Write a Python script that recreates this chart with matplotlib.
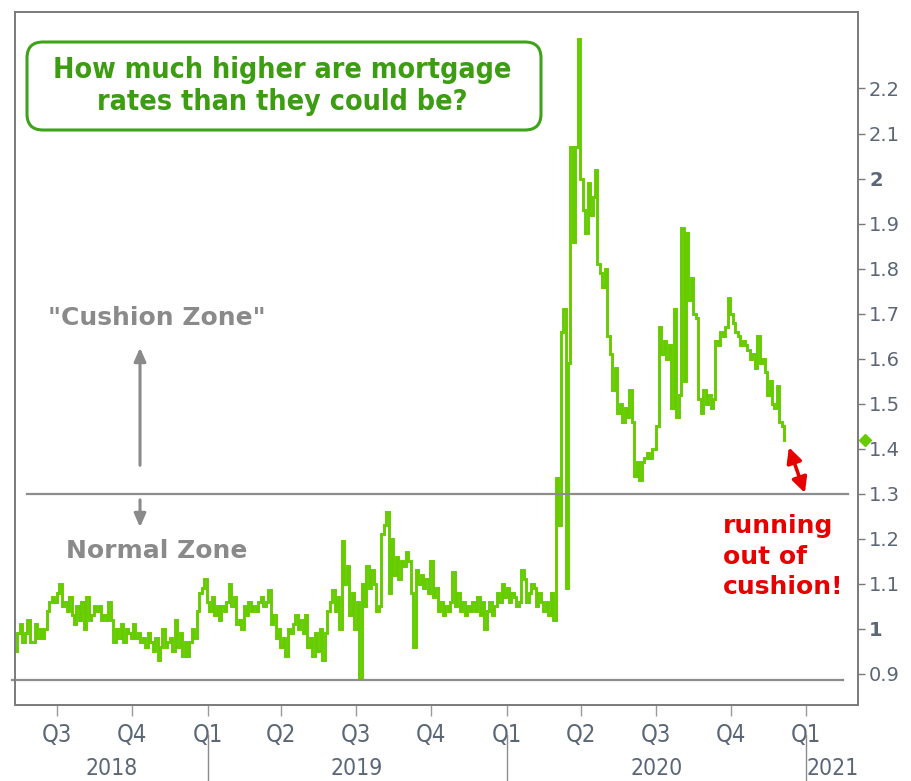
import matplotlib
matplotlib.use("Agg")
import matplotlib.pyplot as plt
from matplotlib.patches import FancyBboxPatch
import pandas as pd

# spread series, sampled every 3 days from 2018-05-11
start_date = "2018-05-11"
spread = [
    0.95, 0.99, 1.01, 0.97, 0.99, 1.02, 0.97, 0.97, 1.01, 0.98,
    1.00, 0.98, 1.00, 1.04, 1.06, 1.07, 1.06, 1.08, 1.10, 1.05,
    1.06, 1.04, 1.07, 1.03, 1.01, 1.05, 1.02, 1.06, 1.00, 1.07,
    1.02, 1.03, 1.05, 1.04, 1.05, 1.02, 1.03, 1.02, 1.06, 1.02,
    0.97, 1.00, 0.98, 1.01, 0.97, 1.00, 0.99, 0.98, 1.01, 0.98,
    0.99, 0.97, 0.98, 0.96, 0.99, 0.97, 0.95, 0.98, 0.93, 0.96,
    1.00, 0.96, 0.97, 0.98, 0.95, 1.02, 0.96, 0.99, 0.94, 0.97,
    0.94, 0.97, 1.00, 0.98, 1.04, 1.08, 1.09, 1.11, 1.06, 1.04,
    1.07, 1.03, 1.05, 1.02, 1.05, 1.04, 1.06, 1.10, 1.05, 1.07,
    1.01, 1.02, 1.00, 1.05, 1.03, 1.06, 1.04, 1.05, 1.04, 1.06,
    1.07, 1.05, 1.06, 1.085, 1.01, 1.03, 0.98, 1.00, 0.96, 0.98,
    0.94, 1.00, 0.99, 1.01, 1.03, 1.00, 1.02, 0.99, 1.03, 0.96,
    0.98, 0.94, 0.99, 0.95, 1.00, 0.93, 0.99, 1.04, 1.06, 1.085,
    1.04, 1.07, 1.00, 1.195, 1.10, 1.14, 1.03, 1.08, 1.00, 1.06,
    0.89, 1.10, 1.05, 1.14, 1.09, 1.13, 1.10, 1.04, 1.05, 1.21,
    1.23, 1.26, 1.08, 1.20, 1.12, 1.16, 1.11, 1.15, 1.14, 1.17,
    1.15, 1.08, 0.96, 1.13, 1.10, 1.12, 1.09, 1.11, 1.08, 1.15,
    1.07, 1.09, 1.04, 1.06, 1.03, 1.05, 1.04, 1.06, 1.125, 1.05,
    1.08, 1.04, 1.06, 1.03, 1.05, 1.04, 1.06, 1.04, 1.07, 1.03,
    1.06, 1.00, 1.04, 1.06, 1.03, 1.05, 1.08, 1.06, 1.10, 1.07,
    1.09, 1.06, 1.08, 1.07, 1.05, 1.06, 1.13, 1.11, 1.06, 1.08,
    1.10, 1.09, 1.05, 1.08, 1.06, 1.04, 1.06, 1.03, 1.08, 1.02,
    1.335, 1.23, 1.66, 1.71, 1.09, 1.59, 2.07, 1.86, 2.07, 2.31,
    2.00, 1.93, 1.88, 1.99, 1.92, 1.96, 2.02, 1.81, 1.79, 1.76,
    1.80, 1.65, 1.61, 1.53, 1.58, 1.48, 1.50, 1.46, 1.49, 1.47,
    1.53, 1.46, 1.34, 1.37, 1.33, 1.37, 1.38, 1.39, 1.38, 1.40,
    1.40, 1.45, 1.67, 1.61, 1.64, 1.60, 1.63, 1.49, 1.71, 1.47,
    1.52, 1.89, 1.55, 1.88, 1.73, 1.78, 1.70, 1.69, 1.51, 1.48,
    1.53, 1.50, 1.52, 1.49, 1.51, 1.64, 1.63, 1.66, 1.65, 1.67,
    1.735, 1.70, 1.68, 1.66, 1.65, 1.63, 1.64, 1.63, 1.62, 1.60,
    1.61, 1.58, 1.65, 1.59, 1.60, 1.57, 1.52, 1.55, 1.50, 1.49,
    1.54, 1.46, 1.45, 1.42,
]
dates = pd.date_range(start_date, periods=len(spread), freq="3D")

y_ticks = [0.9, 1.0, 1.1, 1.2, 1.3, 1.4, 1.5, 1.6, 1.7, 1.8, 1.9, 2.0, 2.1, 2.2]
y_labels = ["0.9", "1", "1.1", "1.2", "1.3", "1.4", "1.5", "1.6", "1.7", "1.8", "1.9", "2", "2.1", "2.2"]
quarter_starts = ["2018-07-01", "2018-10-01", "2019-01-01", "2019-04-01", "2019-07-01",
                  "2019-10-01", "2020-01-01", "2020-04-01", "2020-07-01", "2020-10-01", "2021-01-01"]
quarter_labels = ["Q3", "Q4", "Q1", "Q2", "Q3", "Q4", "Q1", "Q2", "Q3", "Q4", "Q1"]
years = ["2018", "2019", "2020", "2021"]
year_bounds = ["2018-05-11", "2019-01-01", "2020-01-01", "2021-01-01", "2021-03-05"]
cushion_level = 1.3
floor_level = 0.885
latest = 1.42

GREEN = "#66cc00"
AXIS_GRAY = "#7a7a7a"
LABEL = "#5b6776"
COND = dict(family="DejaVu Sans", fontstretch="condensed")

fig = plt.figure(figsize=(9.11, 7.81), dpi=100)
ax = fig.add_axes([15 / 911, 1 - 705 / 781, 843 / 911, 693 / 781])

ax.plot(dates, spread, color=GREEN, lw=2.1, drawstyle="steps-post", solid_joinstyle="miter")

ax.set_xlim(pd.Timestamp(year_bounds[0]), pd.Timestamp(year_bounds[-1]))
ax.set_ylim(0.83, 2.37)

# reference lines
ax.axhline(cushion_level, xmin=0.014, xmax=0.988, color="#8c8c8c", lw=1.6)
ax.axhline(floor_level, xmin=-0.004, xmax=0.982, color="#8c8c8c", lw=1.6, clip_on=False)

# latest value marker on the right axis
ax.plot([1.008], [latest], marker="D", ms=6, color=GREEN,
        transform=ax.get_yaxis_transform(), clip_on=False)

for side in ["left", "right", "top", "bottom"]:
    ax.spines[side].set_color(AXIS_GRAY)
    ax.spines[side].set_linewidth(1.4)

ax.yaxis.tick_right()
ax.set_yticks(y_ticks)
ax.set_yticklabels(y_labels)
ax.tick_params(axis="y", length=5, width=1, color=AXIS_GRAY, labelcolor=LABEL,
               labelsize=14, pad=3)
for lbl in ax.get_yticklabels():
    if lbl.get_text() in ("1", "2"):
        lbl.set_fontweight("bold")

ax.set_xticks(pd.to_datetime(quarter_starts))
ax.set_xticklabels(quarter_labels, **COND)
ax.tick_params(axis="x", length=8, width=1, color="#9a9a9a", labelcolor=LABEL,
               labelsize=17, pad=5)

# year row
xt = ax.get_xaxis_transform()
bounds = pd.to_datetime(year_bounds)
for i, yr in enumerate(years):
    mid = bounds[i] + (bounds[i + 1] - bounds[i]) / 2
    ax.text(mid, -0.091, yr, transform=xt, ha="center", va="center",
            fontsize=16.5, color=LABEL, **COND)
for b in bounds[1:-1]:
    ax.plot([b, b], [-0.043, -0.11], transform=xt, color="#8c8c8c", lw=1, clip_on=False)

# title box
box = FancyBboxPatch((0.27, 7.81 - 1.30), 5.14, 0.88,
                     boxstyle="round,pad=0,rounding_size=0.16",
                     transform=fig.dpi_scale_trans, fc="white", ec="#3ea31a", lw=2.2)
fig.patches.append(box)
fig.text(2.82 / 9.11, 1 - 0.86 / 7.81, "How much higher are mortgage\nrates than they could be?",
         ha="center", va="center", fontsize=20.5, fontweight="bold", color="#3c9c12",
         linespacing=1.2, **COND)

# zone labels and arrows
ax.text(0.168, 0.558, "\"Cushion Zone\"", transform=ax.transAxes, ha="center", va="center",
        fontsize=18, fontweight="bold", color="#8a8a8a")
ax.text(0.168, 0.222, "Normal Zone", transform=ax.transAxes, ha="center", va="center",
        fontsize=18, fontweight="bold", color="#8a8a8a")
ax.annotate("", xy=(0.1483, 0.5195), xytext=(0.1483, 0.342), xycoords="axes fraction",
            arrowprops=dict(arrowstyle="-|>,head_length=0.8,head_width=0.35",
                            color="#8a8a8a", lw=2.2))
ax.annotate("", xy=(0.1483, 0.2525), xytext=(0.1483, 0.300), xycoords="axes fraction",
            arrowprops=dict(arrowstyle="-|>,head_length=0.8,head_width=0.35",
                            color="#8a8a8a", lw=2.2))

# running out of cushion
ax.annotate("", xy=(0.918, 0.372), xytext=(0.937, 0.306), xycoords="axes fraction",
            arrowprops=dict(arrowstyle="<|-|>,head_length=0.9,head_width=0.45",
                            color="#e60000", lw=2.6, shrinkA=0, shrinkB=0))
ax.text(0.840, 0.214, "running\nout of\ncushion!", transform=ax.transAxes,
        ha="left", va="center", fontsize=18, fontweight="bold", color="#e60000",
        linespacing=1.35)

fig.savefig("out.png", dpi=100)
